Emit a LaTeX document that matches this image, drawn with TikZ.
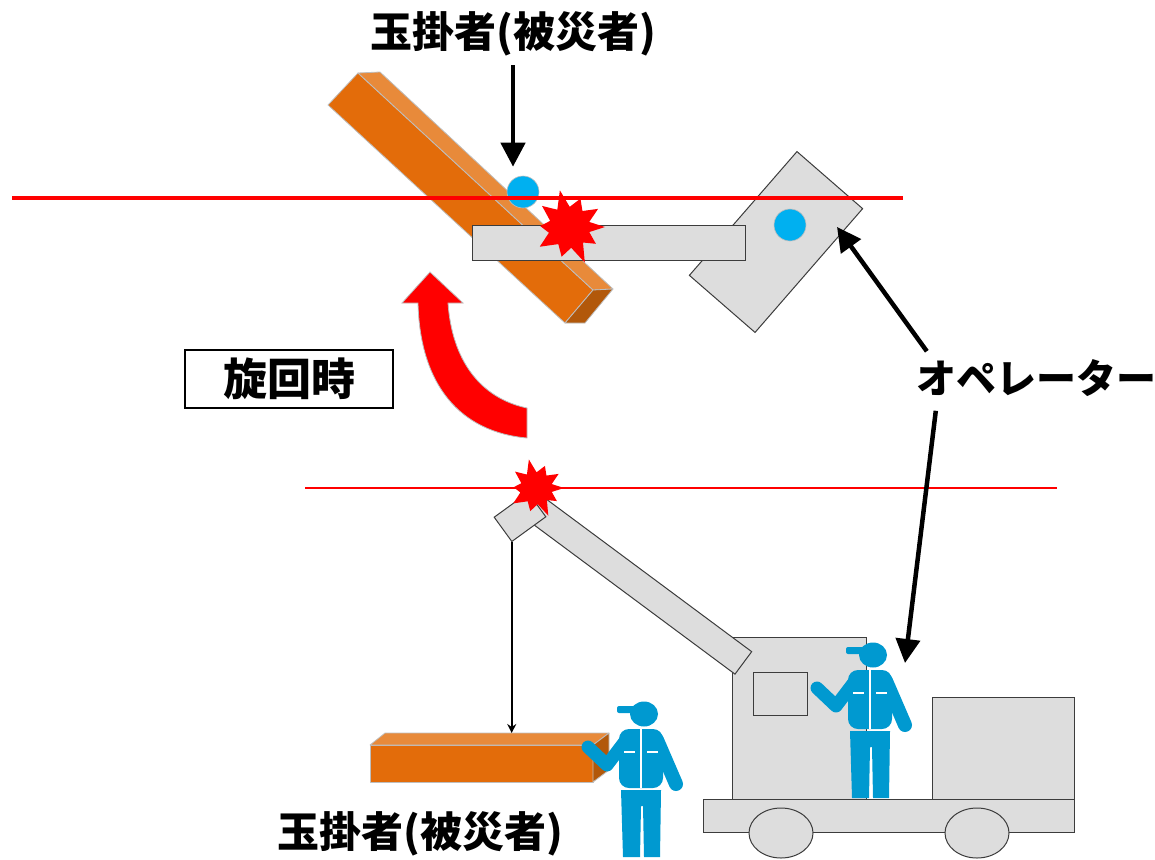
\documentclass[tikz,border=0pt]{standalone}
\usepackage{fontspec}
\newfontfamily\jpfont{Noto Sans CJK JP}
\usepackage{xcolor}
\definecolor{BeamFront}{RGB}{227,108,10}
\definecolor{BeamTop}{RGB}{232,138,58}
\definecolor{BeamEnd}{RGB}{178,88,10}
\definecolor{EdgeGray}{RGB}{190,190,190}
\definecolor{MachineGray}{RGB}{221,221,221}
\definecolor{OutlineGray}{RGB}{60,60,60}
\definecolor{WorkerBlue}{RGB}{0,153,208}
\definecolor{DotBlue}{RGB}{0,176,240}
\definecolor{AlertRed}{RGB}{255,0,0}
\usepackage{tikz}
\usetikzlibrary{arrows.meta, shapes.geometric}
\tikzset{
  % Grey machine parts
  machine/.style={fill=MachineGray, draw=OutlineGray, line width=1pt},
  machinebox/.style={machine, rectangle, inner sep=0pt},
  % Faces of the orange timber
  beamface/.style={draw=EdgeGray, line width=0.8pt, line join=round},
  % Person seen from above
  dot/.style={circle, fill=DotBlue, draw=EdgeGray, line width=0.6pt,
    minimum size=32pt, inner sep=0pt},
  % Height of the overhead line
  redline/.style={AlertRed, line width=3.5pt},
  % Swing direction
  swing/.style={fill=AlertRed, draw=EdgeGray, line width=0.8pt},
  % Arrows
  arr/.style={-{Triangle[length=24pt,width=24pt]}, line width=4.5pt, black},
  hookline/.style={-{Stealth[length=9pt,width=9pt]}, line width=1.8pt, black},
  % Labels
  lbl/.style={font=\jpfont\bfseries\fontsize{42}{48}\selectfont, inner sep=0pt},
  % Contact flash
  burst/.pic={
    \fill[AlertRed] (0:1) -- (14:0.58) -- (32:0.88) -- (48:0.58) -- (66:1.08)
      -- (84:0.58) -- (104:0.85) -- (122:0.56) -- (146:0.98) -- (164:0.58)
      -- (182:0.8) -- (198:0.55) -- (218:0.95) -- (236:0.58) -- (256:1.05)
      -- (272:0.56) -- (292:0.85) -- (310:0.58) -- (328:0.95) -- (346:0.58) -- cycle;
  },
  % Worker figure, origin at the head
  worker/.pic={
    \fill[WorkerBlue] (0,0) ellipse [x radius=14pt, y radius=12.5pt];
    \fill[WorkerBlue, rounded corners=2pt] (-27,-8) rectangle (-8,-1);
    \fill[WorkerBlue, rounded corners=10pt] (-25,15) rectangle (19,74);
    \draw[WorkerBlue, line width=14pt, line cap=round] (13,26) -- (32,70);
    \draw[WorkerBlue, line width=13pt, line cap=round, line join=round]
      (-18,26) -- (-37,51) -- (-56,33);
    \fill[WorkerBlue] (-23,76) -- (17,76) -- (16,143) -- (0,143) -- (-1,92)
      -- (-3,92) -- (-4,143) -- (-21,143) -- cycle;
    \draw[white, line width=1.5pt] (-3,15) -- (-3,74) (-20,38) -- (-9,38) (3,38) -- (14,38);
  },
}

\begin{document}
\begin{tikzpicture}[x=1pt, y=-1pt]
  \useasboundingbox (0,0) rectangle (1155,859);

  %% Top view: timber, jib and cab
  \path[beamface, fill=BeamFront] (328,105) -- (358,73) -- (593,290) -- (565,323) -- cycle;
  \path[beamface, fill=BeamTop] (358,73) -- (380,72) -- (613,289) -- (593,290) -- cycle;
  \path[beamface, fill=BeamEnd] (593,290) -- (613,289) -- (585,323) -- (565,323) -- cycle;

  \node[machinebox, rotate=49, minimum width=164pt, minimum height=87pt] (cab) at (776,242) {};
  \node[dot] (dot2) at (790,225) {};
  \node[machinebox, minimum width=273pt, minimum height=35pt] (jib) at (608.5,242.5) {};
  \node[dot] (dot1) at (523,192) {};

  \draw[redline] (12,198) -- (903,198);
  \pic[scale=36] at (569,227) {burst};

  %% Swing arrow
  \path[swing] (527,438) .. controls (460,432) and (420,385) .. (418,303)
    -- (402,303) -- (430,272) -- (463,303) -- (448,303)
    .. controls (452,360) and (480,398) .. (527,408) -- cycle;
  \node[lbl, draw, line width=1.5pt, minimum width=208pt, minimum height=58pt,
        font=\jpfont\bfseries\fontsize{44}{50}\selectfont] (turn) at (289,379) {旋回時};

  %% Side view: truck crane
  \draw[redline, line width=2.5pt] (305,488) -- (1057,488);
  \draw[machine] (703,799) rectangle (1074,832);
  \draw[machine] (781,833) ellipse [x radius=32pt, y radius=25pt];
  \draw[machine] (977,833) ellipse [x radius=32pt, y radius=25pt];
  \draw[machine] (732,637) rectangle (866,799);
  \draw[machine] (753,672) rectangle (807,715);
  \draw[machine] (932,697) rectangle (1074,799);

  \node[machinebox, rotate=-36.6, minimum width=268pt, minimum height=28pt] (boom) at (635.75,583) {};
  \node[machinebox, rotate=36, minimum width=42pt, minimum height=30pt] (hook) at (520,517) {};
  \pic[scale=28] at (536,488) {burst};

  %% Load on the hook
  \path[beamface, fill=BeamFront] (370,745) rectangle (593,782);
  \path[beamface, fill=BeamTop] (370,745) -- (385,733) -- (609,733) -- (593,745) -- cycle;
  \path[beamface, fill=BeamEnd] (593,745) -- (609,733) -- (609,770) -- (593,782) -- cycle;
  \coordinate (load) at (512,733);
  \draw[hookline] (hook.south west) -- (hook.south west |- load);

  %% Workers
  \pic at (644,714) {worker};
  \pic at (873,655) {worker};

  %% Labels and pointers
  \node[lbl] (slingtop) at (513,34) {玉掛者(被災者)};
  \node[lbl] (slingbot) at (420,834) {玉掛者(被災者)};
  \node[lbl, font=\jpfont\bfseries\fontsize{40}{48}\selectfont] (op) at (1036,378) {オペレーター};
  \coordinate (cabtip) at (837,227);
  \coordinate (optip) at (905,663);

  \draw[arr, shorten <=9pt, shorten >=9pt] (slingtop.south) -- (slingtop.south |- dot1.north);
  \draw[arr] ([xshift=11pt,yshift=8pt]op.north west) -- (cabtip);
  \draw[arr] ([xshift=20pt,yshift=-14pt]op.south west) -- (optip);
\end{tikzpicture}
\end{document}
